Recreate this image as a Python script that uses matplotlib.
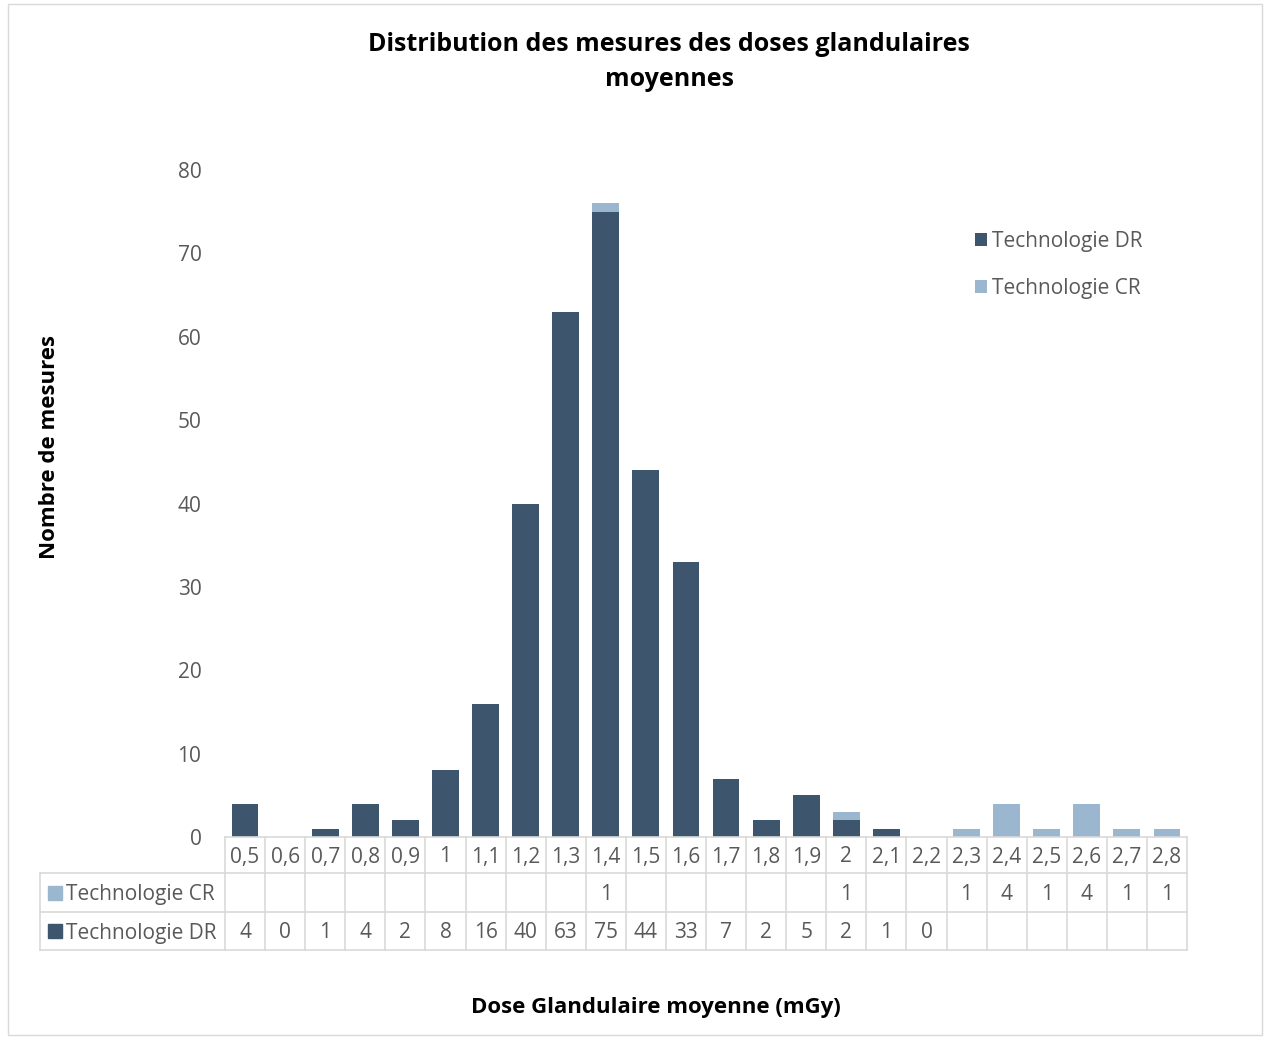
import numpy as np
import matplotlib
matplotlib.use("Agg")
from matplotlib import pyplot as plt
from matplotlib.patches import Rectangle

plt.rcParams['font.family'] = ['Open Sans', 'DejaVu Sans']

doses = ["0,5", "0,6", "0,7", "0,8", "0,9", "1", "1,1", "1,2", "1,3", "1,4", "1,5", "1,6",
         "1,7", "1,8", "1,9", "2", "2,1", "2,2", "2,3", "2,4", "2,5", "2,6", "2,7", "2,8"]
dr = [4, 0, 1, 4, 2, 8, 16, 40, 63, 75, 44, 33, 7, 2, 5, 2, 1, 0,
      None, None, None, None, None, None]
cr = [None, None, None, None, None, None, None, None, None, 1, None, None, None, None, None, 1,
      None, None, 1, 4, 1, 4, 1, 1]

c_dr = "#3D566E"
c_cr = "#9AB7CF"
grid_c = "#D9D9D9"
txt_c = "#595959"

fig = plt.figure(figsize=(12.65, 10.38), dpi=100)
ax = fig.add_axes([225/1265, 1-837/1038, 962/1265, 667/1038])

x = np.arange(len(doses))
dr_v = np.array([v if v is not None else 0 for v in dr])
cr_v = np.array([v if v is not None else 0 for v in cr])
ax.bar(x, dr_v, width=0.67, color=c_dr, label="Technologie DR")
ax.bar(x, cr_v, width=0.67, bottom=dr_v, color=c_cr, label="Technologie CR")

ax.set_xlim(-0.5, len(doses) - 0.5)
ax.set_ylim(0, 80)
ax.set_yticks(range(0, 81, 10))
ax.tick_params(axis="y", length=0, labelsize=15, labelcolor=txt_c, pad=17)
ax.set_xticks([])
for s in ax.spines.values():
    s.set_visible(False)

# data table under the plot
n = len(doses)
h1, h2, h3 = -36/667, -75/667, -113/667
left = -185/962
tr = ax.transAxes
kw = dict(color=grid_c, lw=1.2, clip_on=False, transform=tr)
ax.plot([0, 1], [0, 0], **kw)
ax.plot([left, 1], [h1, h1], **kw)
ax.plot([left, 1], [h2, h2], **kw)
ax.plot([left, 1], [h3, h3], **kw)
ax.plot([left, left], [h1, h3], **kw)
for i in range(n + 1):
    ax.plot([i/n, i/n], [0, h3], **kw)

xt = ax.get_xaxis_transform()
off = -2/667
for i, lab in enumerate(doses):
    ax.text(i, h1/2 + off, lab, transform=xt, ha="center", va="center", fontsize=15, color=txt_c)
    if cr[i] is not None:
        ax.text(i, (h1+h2)/2 + off, str(cr[i]), transform=xt, ha="center", va="center",
                fontsize=15, color=txt_c)
    if dr[i] is not None:
        ax.text(i, (h2+h3)/2 + off, str(dr[i]), transform=xt, ha="center", va="center",
                fontsize=15, color=txt_c)

for yy, col, lab in [((h1+h2)/2, c_cr, "Technologie CR"), ((h2+h3)/2, c_dr, "Technologie DR")]:
    ax.add_patch(Rectangle((left + 8/962, yy - 7/667), 14/962, 14/667, transform=tr,
                           color=col, clip_on=False))
    ax.text(left + 26/962, yy + off, lab, transform=tr, ha="left", va="center",
            fontsize=15, color=txt_c)

ax.legend(loc="upper left", bbox_to_anchor=(731/962, 625/667), frameon=False,
          fontsize=15, labelcolor=txt_c, handlelength=0.6, handleheight=0.6,
          handletextpad=0.25, labelspacing=1.25)

fig.text(669/1265, 1-62/1038, "Distribution des mesures des doses glandulaires\nmoyennes",
         ha="center", va="center", fontsize=18, fontweight="bold", linespacing=1.55)
fig.text(50/1265, 1-447/1038, "Nombre de mesures", rotation=90, ha="center", va="center",
         fontsize=16, fontweight="bold")
fig.text(656/1265, 1-1007/1038, "Dose Glandulaire moyenne (mGy)", ha="center", va="center",
         fontsize=16, fontweight="bold")

fig.patches.append(Rectangle((8/1265, 3/1038), 1254/1265, 1031/1038, transform=fig.transFigure,
                             fill=False, edgecolor=grid_c, lw=1))

fig.savefig("out.png", dpi=100)
